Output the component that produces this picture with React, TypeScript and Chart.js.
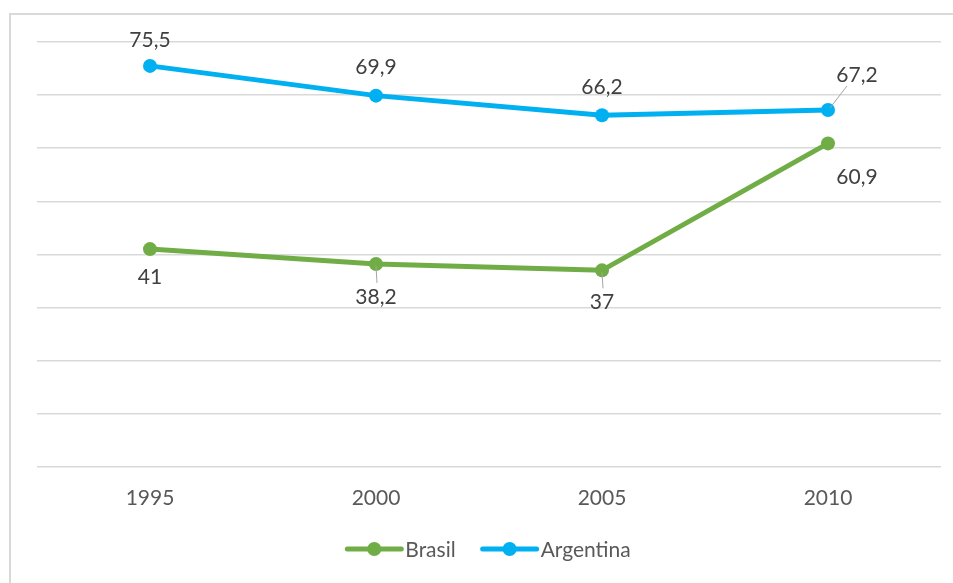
import React, { useEffect, useRef } from "react";
import { Chart, registerables } from "chart.js";

Chart.register(...registerables);

const categories = ["1995", "2000", "2005", "2010"];
const brasil = [41, 38.2, 37, 60.9];
const argentina = [75.5, 69.9, 66.2, 67.2];
const yTicks = [0, 10, 20, 30, 40, 50, 60, 70, 80];

const BLUE = "#00b0f0";
const GREEN = "#70ad47";
const FONT = "Lato, 'Open Sans', sans-serif";

// label offsets (dx, dy) relative to the point, and whether a leader line is shown
const brasilLabelPos = [
  { dx: 0, dy: 28, leader: false },
  { dx: 0, dy: 33, leader: true },
  { dx: 0, dy: 32, leader: true },
  { dx: 29, dy: 34, leader: false },
];
const argentinaLabelPos = [
  { dx: 0, dy: -26, leader: false },
  { dx: 0, dy: -28, leader: false },
  { dx: 0, dy: -28, leader: false },
  { dx: 29, dy: -35, leader: true },
];

const fmt = (v: number) => String(v).replace(".", ",");

const framePlugin = {
  id: "frame",
  beforeDraw(chart: any) {
    const ctx = chart.ctx;
    ctx.save();
    ctx.fillStyle = "#ffffff";
    ctx.fillRect(0, 0, chart.width, chart.height);
    ctx.strokeStyle = "#d9d9d9";
    ctx.lineWidth = 2;
    ctx.beginPath();
    ctx.moveTo(10, chart.height);
    ctx.lineTo(10, 14);
    ctx.lineTo(chart.width, 14);
    ctx.stroke();
    ctx.restore();
  },
};

const labelPlugin = {
  id: "valueLabels",
  afterDatasetsDraw(chart: any) {
    const ctx = chart.ctx;
    ctx.save();
    ctx.font = `21px ${FONT}`;
    ctx.fillStyle = "#404040";
    ctx.textAlign = "center";
    ctx.textBaseline = "middle";
    const positions = [brasilLabelPos, argentinaLabelPos];
    chart.data.datasets.forEach((ds: any, di: number) => {
      const meta = chart.getDatasetMeta(di);
      meta.data.forEach((pt: any, i: number) => {
        const p = positions[di][i];
        const lx = pt.x + p.dx;
        const ly = pt.y + p.dy;
        if (p.leader) {
          ctx.strokeStyle = "#a6a6a6";
          ctx.lineWidth = 1;
          ctx.beginPath();
          if (p.dx !== 0) {
            ctx.moveTo(pt.x + 2, pt.y - 2);
            ctx.lineTo(lx - 10, ly + 11);
          } else {
            ctx.moveTo(pt.x, pt.y + 2);
            ctx.lineTo(pt.x + 1, ly - 14);
          }
          ctx.stroke();
        }
        ctx.fillText(fmt(ds.data[i]), lx, ly);
      });
    });
    ctx.restore();
  },
};

const legendPlugin = {
  id: "customLegend",
  afterDraw(chart: any) {
    const ctx = chart.ctx;
    const area = chart.chartArea;
    ctx.save();
    ctx.font = `21px ${FONT}`;
    ctx.textBaseline = "middle";
    ctx.textAlign = "left";
    const lineLen = 54;
    const gap = 4;
    const itemGap = 27;
    const items = chart.data.datasets.map((ds: any) => ({
      label: ds.label,
      color: ds.borderColor,
      w: lineLen + gap + ctx.measureText(ds.label).width,
    }));
    const total = items.reduce((s: number, it: any) => s + it.w, 0) + itemGap * (items.length - 1);
    let x = (area.left + area.right) / 2 - total / 2;
    const y = 549;
    items.forEach((it: any) => {
      ctx.strokeStyle = it.color;
      ctx.lineWidth = 5;
      ctx.lineCap = "round";
      ctx.beginPath();
      ctx.moveTo(x, y);
      ctx.lineTo(x + lineLen, y);
      ctx.stroke();
      ctx.fillStyle = it.color;
      ctx.beginPath();
      ctx.arc(x + lineLen / 2, y, 7, 0, Math.PI * 2);
      ctx.fill();
      ctx.fillStyle = "#595959";
      ctx.fillText(it.label, x + lineLen + gap, y + 1);
      x += it.w + itemGap;
    });
    ctx.restore();
  },
};

export default function App() {
  const ref = useRef<HTMLCanvasElement | null>(null);
  useEffect(() => {
    if (!ref.current) return;
    const chart = new Chart(ref.current, {
      type: "line",
      data: {
        labels: categories,
        datasets: [
          {
            label: "Brasil",
            data: brasil,
            borderColor: GREEN,
            backgroundColor: GREEN,
            borderWidth: 5,
            pointRadius: 7,
            pointBorderWidth: 0,
            pointBackgroundColor: GREEN,
            tension: 0,
          },
          {
            label: "Argentina",
            data: argentina,
            borderColor: BLUE,
            backgroundColor: BLUE,
            borderWidth: 5,
            pointRadius: 7,
            pointBorderWidth: 0,
            pointBackgroundColor: BLUE,
            tension: 0,
          },
        ],
      },
      options: {
        responsive: false,
        animation: false,
        devicePixelRatio: 1,
        layout: { padding: { left: 37, right: 12, top: 42, bottom: 53 } },
        plugins: {
          legend: { display: false },
          tooltip: { enabled: false },
        },
        scales: {
          x: {
            offset: true,
            grid: { display: false, drawTicks: false },
            border: { display: false },
            ticks: { color: "#595959", font: { family: FONT, size: 21 }, padding: 19 },
          },
          y: {
            min: yTicks[0],
            max: yTicks[yTicks.length - 1],
            afterBuildTicks: (axis: any) => {
              axis.ticks = yTicks.map((v) => ({ value: v }));
            },
            grid: { color: "#d9d9d9", lineWidth: 1.5, drawTicks: false },
            border: { display: false },
            ticks: { display: false },
          },
        },
      },
      plugins: [framePlugin, labelPlugin, legendPlugin],
    });
    return () => chart.destroy();
  }, []);
  return (
    <div style={{ position: "fixed", left: 0, top: 0, width: 953, height: 583, background: "#fff" }}>
      <canvas ref={ref} width={953} height={583} style={{ display: "block" }} />
    </div>
  );
}
